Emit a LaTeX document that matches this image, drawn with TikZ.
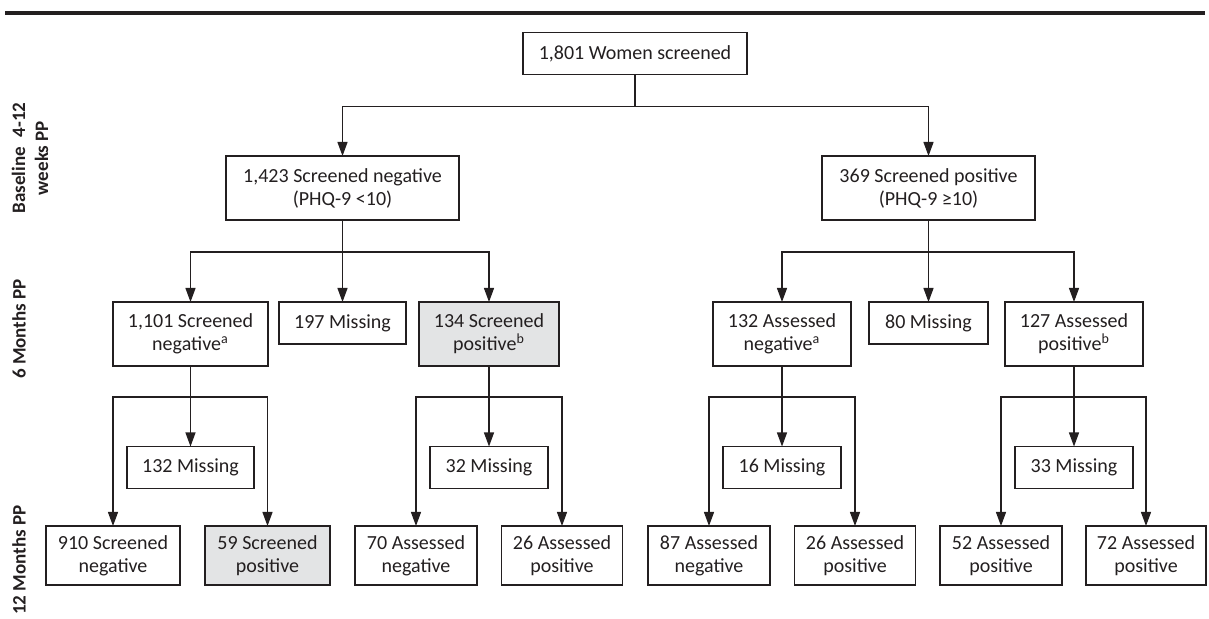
\documentclass[tikz,border=0pt]{standalone}
\usepackage{fontspec}
\setmainfont{Carlito}
\usetikzlibrary{arrows.meta}
\definecolor{ink}{HTML}{231F20}
\definecolor{shade}{HTML}{E3E4E5}

\begin{document}
\begin{tikzpicture}[x=0.5pt, y=-0.5pt,
    every node/.style={outer sep=0pt, inner sep=0pt, text=ink},
    box/.style={draw=ink, line width=0.8pt, align=center,
                font=\fontsize{10}{11.5}\selectfont},
    tallbox/.style={box, minimum height=32pt},
    lowbox/.style={box, minimum height=21pt},
    endbox/.style={box, minimum height=29.5pt},
    hit/.style={fill=shade},
    period/.style={rotate=90, align=center,
                   font=\bfseries\fontsize{9.5}{11.5}\selectfont},
    arr/.style={draw=ink, line width=0.6pt, -{Triangle[length=7pt,width=5pt]}}]
  \useasboundingbox (0,0) rectangle (1209,619);
  \fill[ink] (5,11) rectangle (1205,15);

  % time points
  \node[period] (base) at (30,158) {Baseline\hspace{0.5em}4-12\\weeks PP};
  \node[period] (six) at (19,329) {6 Months PP};
  \node[period] (twelve) at (19,560) {12 Months PP};

  % baseline
  \node[lowbox, minimum width=112pt] (top) at (635,53.5) {1,801 Women screened};
  \node[tallbox, minimum width=116.5pt] (neg) at (342.5,188) {1,423 Screened negative\\(PHQ-9 <10)};
  \node[tallbox, minimum width=106.5pt] (pos) at (928.5,188) {369 Screened positive\\(PHQ-9 ≥10)};

  % 6 months
  \node[tallbox, minimum width=77.5pt] (negneg) at (190.5,334) {1,101 Screened\\negative\textsuperscript{a}};
  \node[lowbox, minimum width=63.5pt, anchor=north] (negmis) at (342.5,302) {197 Missing};
  \node[tallbox, hit, minimum width=70pt] (negpos) at (489,334) {134 Screened\\positive\textsuperscript{b}};
  \node[tallbox, minimum width=69pt] (posneg) at (782,334) {132 Assessed\\negative\textsuperscript{a}};
  \node[lowbox, minimum width=59.5pt, anchor=north] (posmis) at (928.5,302) {80 Missing};
  \node[tallbox, minimum width=69pt] (pospos) at (1074,334) {127 Assessed\\positive\textsuperscript{b}};

  % missing at 12 months
  \node[lowbox, minimum width=63.5pt] (nnmis) at (190.5,467.5) {132 Missing};
  \node[lowbox, minimum width=59pt] (npmis) at (489,467.5) {32 Missing};
  \node[lowbox, minimum width=59pt] (pnmis) at (782,467.5) {16 Missing};
  \node[lowbox, minimum width=59pt] (ppmis) at (1074,467.5) {33 Missing};

  % 12 months
  \node[endbox, minimum width=67pt] (nnneg) at (113,555.5) {910 Screened\\negative};
  \node[endbox, hit, minimum width=62.5pt] (nnpos) at (267.5,555.5) {59 Screened\\positive};
  \node[endbox, minimum width=61pt] (npneg) at (416,555.5) {70 Assessed\\negative};
  \node[endbox, minimum width=60.5pt] (nppos) at (562,555.5) {26 Assessed\\positive};
  \node[endbox, minimum width=61pt] (pnneg) at (709,555.5) {87 Assessed\\negative};
  \node[endbox, minimum width=60.5pt] (pnpos) at (855,555.5) {26 Assessed\\positive};
  \node[endbox, minimum width=61pt] (ppneg) at (1001,555.5) {52 Assessed\\positive};
  \node[endbox, minimum width=60pt] (pppos) at (1146,555.5) {72 Assessed\\positive};

  % connectors
  \draw[arr] (top.south) ++(0,32) -| (neg.north);
  \draw[arr] (top.south) ++(0,32) -| (pos.north);
  \draw[draw=ink, line width=0.6pt] (top.south) -- ++(0,32);

  \foreach \p/\l/\m/\r in {neg/negneg/negmis/negpos, pos/posneg/posmis/pospos}{
    \draw[arr] (\p.south) -- (\m.north);
    \draw[arr] (\p.south) ++(0,32) -| (\l.north);
    \draw[arr] (\p.south) ++(0,32) -| (\r.north);
  }

  \foreach \p/\l/\m/\r in {negneg/nnneg/nnmis/nnpos, negpos/npneg/npmis/nppos,
                           posneg/pnneg/pnmis/pnpos, pospos/ppneg/ppmis/pppos}{
    \draw[arr] (\p.south) -- (\m.north);
    \draw[arr] (\p.south) ++(0,31) -| (\l.north);
    \draw[arr] (\p.south) ++(0,31) -| (\r.north);
  }
\end{tikzpicture}
\end{document}
